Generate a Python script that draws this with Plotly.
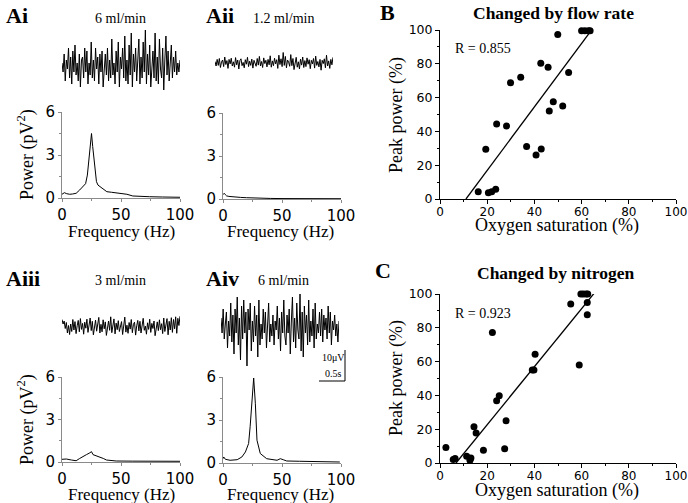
import plotly.graph_objects as go

W, H = 688, 503

# ---------------- data ----------------
# spectra (frequency Hz, power pV^2)
ai_freq = [0, 2, 4, 6.5, 9, 12, 15, 16.5, 18, 20, 21.5, 23, 24, 25, 26, 27, 28, 29.2, 30.5, 32, 35, 38, 42, 46, 50, 55, 60, 65, 74, 85, 100]
ai_pow = [0.26, 0.37, 0.3, 0.26, 0.28, 0.33, 0.56, 0.68, 0.85, 1.0, 1.6, 2.9, 4.1, 4.5, 3.6, 2.8, 2.5, 1.14, 0.9, 0.8, 0.6, 0.44, 0.4, 0.37, 0.33, 0.26, 0.14, 0.11, 0.09, 0.07, 0.05]

aii_freq = [0, 1, 2, 3, 5, 8, 10, 15, 20, 25, 30, 40, 50, 70, 100]
aii_pow = [0.3, 0.4, 0.3, 0.22, 0.18, 0.15, 0.13, 0.11, 0.09, 0.07, 0.05, 0.04, 0.03, 0.02, 0.02]

aiii_freq = [0, 3.7, 8, 12, 15, 18, 20.7, 23, 25, 26.3, 29, 32, 35, 37.7, 42, 46, 60, 80, 100]
aiii_pow = [0.19, 0.21, 0.14, 0.09, 0.25, 0.42, 0.52, 0.62, 0.73, 0.52, 0.45, 0.37, 0.25, 0.14, 0.09, 0.07, 0.06, 0.05, 0.05]

aiv_freq = [0, 0.6, 2, 6, 12, 16, 19, 21.7, 23, 24.6, 26, 27.4, 28.8, 31.6, 37, 45.8, 48.6, 51, 54, 65, 80, 99]
aiv_pow = [0.3, 0.42, 0.26, 0.19, 0.23, 0.42, 0.77, 1.36, 2.53, 4.64, 5.93, 4.17, 1.59, 0.66, 0.3, 0.19, 0.3, 0.23, 0.14, 0.12, 0.09, 0.07]

# raw field potential traces (microvolts)
ai_trace = [1, -2, 4, -5, 2, -1, 6, -4, 3, -6, 5, -2, 7, -3, 1, -5, 4, -7, 2, 3,
            -4, 6, -2, 5, -6, 1, -3, 8, -4, 2, -5, 6, -1, 3, -6, 4, -2, 5, -7, 1,
            4, -3, 6, -5, 2, -4, 9, -3, 1, -6, 5, -2, 8, -7, 3, -1, 6, -4, 10, -5,
            2, -6, 7, -3, 11, -7, 4, -2, 6, -5, 1, 9, -6, 3, -4, 8, -2, 12, -6, 4,
            -3, 7, -7, 2, 5, -4, 11, -5, 3, -6, 9, -1, -4, 6, -8, 2, 10, -3, 5, -5,
            1, 7, -4, 3, -2, 5, -3, 1, -2, 2]
aii_trace = [0.5, -1, 1.2, -0.8, 1.5, -1.5, 0.3, 1, -1.2, 2, -0.5, 0.8, -1.8, 1.2, -0.3, 1.6, -1, 0.4, -1.4, 1.8,
             -0.6, 1, -2, 0.8, 1.4, -0.9, 0.2, -1.6, 1.1, -0.4, 1.9, -1.2, 0.6, -0.8, 1.3, -1.7, 0.9, 0.1, -1.1, 1.5,
             -0.7, 2.2, -1, 0.5, -1.5, 1.7, -0.2, 0.9, -1.3, 1.2, -0.6, 2.4, -1.4, 0.7, -0.9, 1.6, -0.3, 1.1, -1.8, 2.6,
             -0.5, 1.4, -1.2, 3.5, -0.8, 2.2, -1.6, 1, 0.3, -1.1, 2.8, -0.9, 1.5, -2.2, 0.6, 1.9, -1.4, 0.4, -2, 1.3,
             -0.7, 2, -1.5, 0.8, -1.2, 1.7, -0.4, 1.1, -1.9, 0.9, -0.3, 1.5, -1.7, 2.3, -0.8, 0.5, -1.3, 1.2, -2.4, 0.9,
             -0.2, 1.4, -1.6, 2.6, -1, 0.7, -1.8, 1.2, -0.6, 1.9]
aiii_trace = [2.5, 1, 2, -0.5, 1.5, -2, 0.5, -2.5, 1, -1.5, 2.5, -1, 1.8, -2.2, 0.4, 2.2, -1.6, 2.8, -0.8, 1.2,
              -2.4, 1.6, -0.4, 2.6, -1.8, 0.8, 3, -1.2, 1.9, -2.6, 0.6, 2.3, -1.4, 1.1, 3.2, -2, 0.9, -1.6, 2.4, -0.6,
              1.7, -2.8, 0.5, 2, -1.1, 3.4, -1.9, 0.7, 2.7, -2.3, 1.3, -0.9, 2.1, -1.5, 0.2, 1.8, -2.5, 1.1, 3.3, -1.7,
              0.6, -2.1, 1.5, -0.7, 2.5, -1.9, 0.9, 1.6, -2.7, 0.4, 2.2, -1.3, 1.9, -2, 0.8, 2.9, -1.1, 0.3, -2.4, 1.4,
              -0.8, 2.6, -1.8, 1.2, -0.5, 2, -2.9, 0.6, 1.7, -1.2, 2.4, -0.9, 1.1, -2.2, 3, -1.5, 0.8, 2.8, -2.6, 1.9,
              -1, 3.1, -1.8, 2.5, -0.6, 3.4, -2.1, 2.9, 0.5, 3.6]
aiv_trace = [3, -2, 6, -4, 1, 5, -7, 2, -3, 8, -5, 4, -9, 6, -2, 10, -6, 3, -11, 7,
             -4, 9, -2, 5, -13, 6, -1, 8, -8, 2, -5, 7, -3, 4, -10, 9, -6, 1, -4, 6,
             -2, 5, -7, 3, 8, -5, 1, -3, 4, -6, 2, -1, 7, -4, 3, -8, 5, -2, 9, -3,
             -6, 4, -2, 6, -9, 2, 10, -5, 3, -7, 8, -1, -4, 11, -8, 5, -10, 7, -2, 4,
             -6, 9, -5, 2, -3, 6, -7, 8, -4, 1, -2, 5, -3, 6, -5, 4, -1, 3, -4, 7,
             -2, 5, -6, 2, -1, 4, -3, 1, -5, 2]

# scatter B: changed by flow rate
b_sat = [16.2, 19.4, 20.5, 21.9, 23.6, 24.0, 28.2, 29.9, 34.2, 36.7, 40.7, 42.7, 42.9, 45.8, 46.3, 48.0, 49.9, 52.0, 54.5, 60.0, 61.4, 62.9, 63.6]
b_pow = [4.3, 29.4, 3.7, 4.3, 5.7, 44.4, 43.2, 68.8, 72.0, 31.0, 26.0, 80.3, 29.6, 77.9, 52.1, 57.6, 97.4, 55.0, 74.8, 99.6, 99.6, 99.6, 99.6]
b_fit_x = [11.0, 65.3]
b_fit_y = [0.0, 102.0]

# scatter C: changed by nitrogen
c_sat = [2.5, 5.6, 6.4, 11.3, 12.7, 13.1, 14.4, 15.3, 18.4, 22.2, 24.0, 25.1, 27.4, 28.0, 39.1, 39.8, 40.3, 55.4, 59.0, 59.7, 60.7, 61.9, 62.6, 62.4, 62.4]
c_pow = [9.1, 2.0, 2.6, 4.0, 1.6, 3.0, 21.4, 17.8, 7.5, 77.2, 36.8, 39.8, 8.5, 25.0, 55.0, 55.0, 64.4, 94.1, 58.0, 100, 100, 100, 100, 95.0, 87.7]
c_fit_x = [6.8, 66.8]
c_fit_y = [0.0, 103.0]

freq_ticks = [0, 50, 100]
pow_ticks = [0, 3, 6]
pct_ticks = [0, 20, 40, 60, 80, 100]

# ---------------- helpers ----------------
def dx(a, b):
    return [a / W, b / W]

def dy(top, bottom):
    return [1 - bottom / H, 1 - top / H]

SERIF = "Liberation Serif"
SANS = "DejaVu Sans"
GRAY = "#8a8a8a"

fig = go.Figure()

# spectra
for i, (f, p) in enumerate([(ai_freq, ai_pow), (aii_freq, aii_pow), (aiii_freq, aiii_pow), (aiv_freq, aiv_pow)], start=1):
    fig.add_trace(go.Scatter(x=f, y=p, mode="lines", line=dict(color="black", width=1),
                             xaxis=f"x{i}" if i > 1 else "x", yaxis=f"y{i}" if i > 1 else "y",
                             showlegend=False, hoverinfo="skip"))

# scatter plots
fig.add_trace(go.Scatter(x=b_sat, y=b_pow, mode="markers", marker=dict(color="black", size=7),
                         xaxis="x5", yaxis="y5", cliponaxis=False, showlegend=False))
fig.add_trace(go.Scatter(x=b_fit_x, y=b_fit_y, mode="lines", line=dict(color="black", width=1.3),
                         xaxis="x5", yaxis="y5", showlegend=False))
fig.add_trace(go.Scatter(x=c_sat, y=c_pow, mode="markers", marker=dict(color="black", size=7),
                         xaxis="x6", yaxis="y6", cliponaxis=False, showlegend=False))
fig.add_trace(go.Scatter(x=c_fit_x, y=c_fit_y, mode="lines", line=dict(color="black", width=1.3),
                         xaxis="x6", yaxis="y6", showlegend=False))

# raw traces
for i, tr in enumerate([ai_trace, aii_trace, aiii_trace, aiv_trace], start=7):
    fig.add_trace(go.Scatter(x=list(range(len(tr))), y=tr, mode="lines",
                             line=dict(color="black", width=1),
                             xaxis=f"x{i}", yaxis=f"y{i}", showlegend=False, hoverinfo="skip"))

layout = dict(width=W, height=H, margin=dict(l=0, r=0, t=0, b=0, autoexpand=False),
              paper_bgcolor="white", plot_bgcolor="white", showlegend=False, template="none")

spec_geo = {1: ((62, 180), (112, 198)), 2: ((223, 341), (113, 199)),
            3: ((62, 180), (377, 462)), 4: ((223, 341), (377, 463))}
for i, ((x0, x1), (t, b)) in spec_geo.items():
    xn = "xaxis" if i == 1 else f"xaxis{i}"
    yn = "yaxis" if i == 1 else f"yaxis{i}"
    layout[xn] = dict(domain=dx(x0, x1), anchor="y" if i == 1 else f"y{i}", range=[0, 100],
                      tickvals=freq_ticks, showline=True, linecolor=GRAY, linewidth=1,
                      ticks="outside", ticklen=3, tickcolor=GRAY, showgrid=False, zeroline=False,
                      automargin=False,
                      minor=dict(tickvals=[25, 75], ticks="outside", ticklen=2, tickcolor=GRAY),
                      tickfont=dict(family=SANS, size=15, color="black"))
    layout[yn] = dict(domain=dy(t, b), anchor="x" if i == 1 else f"x{i}", range=[0, 6],
                      tickvals=pow_ticks, showline=True, linecolor=GRAY, linewidth=1,
                      ticks="outside", ticklen=3, tickcolor=GRAY, showgrid=False, zeroline=False,
                      automargin=False,
                      minor=dict(tickvals=[1.5, 4.5], ticks="outside", ticklen=2, tickcolor=GRAY),
                      tickfont=dict(family=SANS, size=15, color="black"))

sc_geo = {5: ((440, 676), (30, 199)), 6: ((440, 676), (294, 463))}
for i, ((x0, x1), (t, b)) in sc_geo.items():
    layout[f"xaxis{i}"] = dict(domain=dx(x0, x1), anchor=f"y{i}", range=[0, 100],
                               tickvals=pct_ticks, showline=True, linecolor="black", linewidth=1,
                               ticks="outside", ticklen=4, tickcolor="black", showgrid=False, zeroline=False,
                               automargin=False, ticklabelstandoff=-2,
                               minor=dict(dtick=10, ticks="outside", ticklen=2, tickcolor="black"),
                               tickfont=dict(family=SANS, size=12, color="black"))
    layout[f"yaxis{i}"] = dict(domain=dy(t, b), anchor=f"x{i}", range=[0, 100],
                               tickvals=pct_ticks, showline=True, linecolor="black", linewidth=1,
                               ticks="outside", ticklen=4, tickcolor="black", showgrid=False, zeroline=False,
                               automargin=False,
                               minor=dict(dtick=10, ticks="outside", ticklen=2, tickcolor="black"),
                               tickfont=dict(family=SANS, size=12.5, color="black"))

tr_geo = {7: ((62, 180), 66, len(ai_trace)), 8: ((215, 333), 63, len(aii_trace)),
          9: ((62, 180), 327, len(aiii_trace)), 10: ((221, 339), 327, len(aiv_trace))}
for i, ((x0, x1), c, n) in tr_geo.items():
    layout[f"xaxis{i}"] = dict(domain=dx(x0, x1), anchor=f"y{i}", range=[0, n - 1], visible=False,
                               automargin=False)
    layout[f"yaxis{i}"] = dict(domain=dy(c - 45, c + 45), anchor=f"x{i}", range=[-15, 15], visible=False,
                               automargin=False)

fig.update_layout(**layout)

def ann(text, x, y, size, bold=False, family=SERIF, angle=0):
    if bold:
        text = f"<b>{text}</b>"
    fig.add_annotation(text=text, x=x / W, y=1 - y / H, xref="paper", yref="paper",
                       showarrow=False, xanchor="center", yanchor="middle", textangle=angle,
                       font=dict(family=family, size=size, color="black"))

def label(text, x, y):
    fig.add_annotation(text=f"<b>{text}</b>", x=x / W, y=1 - y / H, xref="paper", yref="paper",
                       showarrow=False, xanchor="left", yanchor="middle",
                       font=dict(family=SERIF, size=22, color="black"))

# panel labels
label("Ai", 4, 15)
label("Aii", 204, 15)
label("Aiii", 4, 278)
label("Aiv", 204, 278)
ann("B", 387, 13, 22, bold=True)
ann("C", 383, 270, 22, bold=True)

# condition titles
ann("6 ml/min", 120, 18, 14)
ann("1.2 ml/min", 283, 18, 14)
ann("3 ml/min", 120, 280, 14)
ann("6 ml/min", 283, 280, 14)
ann("Changed by flow rate", 553, 13, 17.5, bold=True)
ann("Changed by nitrogen", 555, 273, 17.5, bold=True)

# axis titles
for (xc, yc) in [(121, 231), (280, 231), (121, 494), (280, 494)]:
    ann("Frequency (Hz)", xc, yc, 17)
ann("Power (pV<sup>2</sup>)", 26, 155, 18, angle=-90)
ann("Power (pV<sup>2</sup>)", 26, 420, 18, angle=-90)
ann("Oxygen saturation (%)", 557, 226, 18)
ann("Oxygen saturation (%)", 557, 490, 18)
ann("Peak power (%)", 396, 115, 18, angle=-90)
ann("Peak power (%)", 396, 378, 18, angle=-90)

# correlation labels
ann("R = 0.855", 483, 48, 14)
ann("R = 0.923", 483, 313, 14)

# scale bar
ann("10μV", 333, 357, 10)
ann("0.5s", 333, 373, 10)
fig.add_shape(type="line", xref="paper", yref="paper", x0=345 / W, x1=345 / W, y0=1 - 350 / H, y1=1 - 381 / H,
              line=dict(color="black", width=1))
fig.add_shape(type="line", xref="paper", yref="paper", x0=319 / W, x1=345 / W, y0=1 - 381 / H, y1=1 - 381 / H,
              line=dict(color="black", width=1))

fig.write_html("out.html", config={"displayModeBar": False},
               post_script="document.body.style.margin='0';document.body.style.overflow='hidden';")
